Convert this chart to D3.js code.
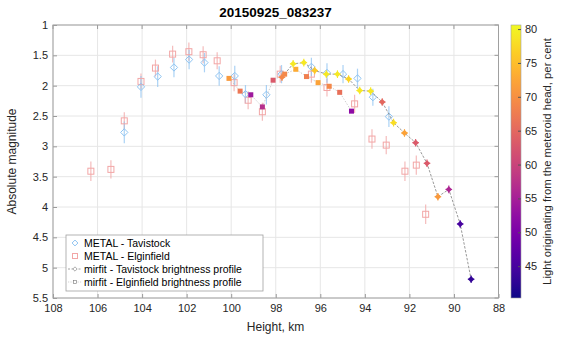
<!DOCTYPE html>
<html>
<head>
<meta charset="utf-8">
<script src="https://cdn.jsdelivr.net/npm/d3@7"></script>
<style>
  body { margin: 0; background: #fff; }
  svg text { font-family: "Liberation Sans", Arial, Helvetica, sans-serif; }
</style>
</head>
<body>
<svg id="chart" width="570" height="338"></svg>
<script>
// METAL - Tavistock (height km, abs. magnitude, error)
var tavHeight = [104.8, 104.05, 103.3, 102.57, 101.89, 101.2, 100.54, 99.84, 99.36, 98.42, 97.74, 96.4, 95.7, 94.98, 94.33, 93.64, 92.92];
var tavMag    = [2.77, 2.02, 1.85, 1.70, 1.57, 1.62, 1.84, 1.84, 2.14, 2.15, 1.81, 1.69, 1.79, 1.81, 1.88, 2.19, 2.51];
var tavErr    = [0.18, 0.18, 0.17, 0.16, 0.16, 0.16, 0.16, 0.17, 0.15, 0.16, 0.15, 0.15, 0.16, 0.15, 0.16, 0.14, 0.17];

// METAL - Elginfield
var elgHeight = [106.3, 105.4, 104.8, 104.05, 103.4, 102.63, 101.9, 101.26, 100.63, 99.87, 99.24, 98.6, 97.8, 96.4, 95.7, 94.46, 93.68, 93.04, 92.2, 91.69, 91.27];
var elgMag    = [3.41, 3.38, 2.58, 1.93, 1.71, 1.48, 1.44, 1.49, 1.59, 1.95, 2.24, 2.43, 1.81, 1.81, 2.03, 2.30, 2.88, 2.98, 3.41, 3.31, 4.12];
var elgErr    = [0.16, 0.15, 0.14, 0.13, 0.14, 0.14, 0.15, 0.14, 0.14, 0.14, 0.15, 0.15, 0.14, 0.14, 0.15, 0.15, 0.16, 0.15, 0.16, 0.16, 0.16];

// mirfit - Tavistock brightness profile (height, magnitude, % light from head)
var mtHeight = [97.72, 97.22, 96.74, 96.25, 95.73, 95.23, 94.73, 94.23, 93.74, 93.22, 92.71, 92.22, 91.72, 91.21, 90.72, 90.23, 89.72, 89.23];
var mtMag    = [1.86, 1.64, 1.62, 1.75, 1.81, 1.81, 1.89, 2.08, 2.09, 2.27, 2.61, 2.78, 2.94, 3.28, 3.83, 3.71, 4.28, 5.19];
var mtPct    = [69, 79, 79, 76, 79, 79, 77, 79, 79, 65, 78, 72, 63, 63, 71, 56, 45, 43];

// mirfit - Elginfield brightness profile
var meHeight = [100.1, 99.6, 99.12, 98.6, 98.12, 97.6, 97.1, 96.62, 96.1, 95.6, 95.13, 94.6];
var meMag    = [1.88, 2.09, 2.15, 2.35, 1.91, 1.81, 1.73, 1.85, 1.95, 2.01, 2.11, 2.42];
var mePct    = [71, 67, 54, 57, 63, 69, 73, 68, 72, 69, 66, 52];

var xTicks = [108, 106, 104, 102, 100, 98, 96, 94, 92, 90, 88];
var yTicks = [1, 1.5, 2, 2.5, 3, 3.5, 4, 4.5, 5, 5.5];
var cTicks = [45, 50, 55, 60, 65, 70, 75, 80];

var svg = d3.select("#chart");
var pL = 53, pR = 498.5, pT = 25, pB = 298;

var x = d3.scaleLinear().domain([108, 88]).range([pL, pR]);
var y = d3.scaleLinear().domain([1, 5.5]).range([pT, pB]);
var color = d3.scaleSequential(d3.interpolatePlasma).domain([40.3, 80.6]);

var axisCol = "#262626";

// grid
svg.append("g").selectAll("line").data(xTicks).enter().append("line")
  .attr("x1", function(d) { return x(d); }).attr("x2", function(d) { return x(d); })
  .attr("y1", pT).attr("y2", pB)
  .attr("stroke", "#e6e6e6").attr("stroke-width", 1);
svg.append("g").selectAll("line").data(yTicks).enter().append("line")
  .attr("x1", pL).attr("x2", pR)
  .attr("y1", function(d) { return y(d); }).attr("y2", function(d) { return y(d); })
  .attr("stroke", "#e6e6e6").attr("stroke-width", 1);

// axes
var xAxis = d3.axisBottom(x).tickValues(xTicks).tickSize(-4).tickPadding(6);
var gx = svg.append("g").attr("transform", "translate(0," + pB + ")").call(xAxis);
var yAxis = d3.axisLeft(y).tickValues(yTicks).tickSize(-4).tickPadding(5)
  .tickFormat(function(d) { return d; });
var gy = svg.append("g").attr("transform", "translate(" + pL + ",0)").call(yAxis);
[gx, gy].forEach(function(g) {
  g.selectAll("text").attr("font-size", 11).attr("fill", axisCol);
  g.selectAll("line").attr("stroke", "#9a9a9a");
  g.select(".domain").remove();
});
// top/right ticks (box on)
svg.append("g").selectAll("line").data(xTicks).enter().append("line")
  .attr("x1", function(d) { return x(d); }).attr("x2", function(d) { return x(d); })
  .attr("y1", pT).attr("y2", pT + 4).attr("stroke", "#9a9a9a");
svg.append("g").selectAll("line").data(yTicks).enter().append("line")
  .attr("x1", pR - 4).attr("x2", pR)
  .attr("y1", function(d) { return y(d); }).attr("y2", function(d) { return y(d); })
  .attr("stroke", "#9a9a9a");

svg.append("rect").attr("x", pL).attr("y", pT)
  .attr("width", pR - pL).attr("height", pB - pT)
  .attr("fill", "none").attr("stroke", "#a0a0a0").attr("stroke-width", 1);

// data tables
var tav = tavHeight.map(function(h, i) { return {h: h, m: tavMag[i], e: tavErr[i]}; });
var elg = elgHeight.map(function(h, i) { return {h: h, m: elgMag[i], e: elgErr[i]}; });
var mt = mtHeight.map(function(h, i) { return {h: h, m: mtMag[i], p: mtPct[i]}; });
var me = meHeight.map(function(h, i) { return {h: h, m: meMag[i], p: mePct[i]}; });

var blue = "#8fc4f2", red = "#f2a6a6";

// error bars
function errBars(data, col) {
  svg.append("g").selectAll("line").data(data).enter().append("line")
    .attr("x1", function(d) { return x(d.h); }).attr("x2", function(d) { return x(d.h); })
    .attr("y1", function(d) { return y(d.m - d.e); }).attr("y2", function(d) { return y(d.m + d.e); })
    .attr("stroke", col).attr("stroke-width", 1.2).attr("opacity", 0.75);
}
errBars(elg, red);
errBars(tav, blue);

// METAL markers
svg.append("g").selectAll("rect").data(elg).enter().append("rect")
  .attr("x", function(d) { return x(d.h) - 3; }).attr("y", function(d) { return y(d.m) - 3; })
  .attr("width", 6).attr("height", 6)
  .attr("fill", "none").attr("stroke", red).attr("stroke-width", 1);
var diamond = d3.symbol().type(d3.symbolDiamond2).size(34);
svg.append("g").selectAll("path").data(tav).enter().append("path")
  .attr("d", diamond)
  .attr("transform", function(d) { return "translate(" + x(d.h) + "," + y(d.m) + ")"; })
  .attr("fill", "none").attr("stroke", blue).attr("stroke-width", 1);

// mirfit lines
var line = d3.line().x(function(d) { return x(d.h); }).y(function(d) { return y(d.m); });
svg.append("path").datum(me).attr("d", line)
  .attr("fill", "none").attr("stroke", "#c8c8c8").attr("stroke-width", 0.9)
  .attr("stroke-dasharray", "1.5,1.5");
svg.append("path").datum(mt).attr("d", line)
  .attr("fill", "none").attr("stroke", "#8c8c8c").attr("stroke-width", 0.9)
  .attr("stroke-dasharray", "2.5,1.5");

// mirfit markers
svg.append("g").selectAll("rect").data(me).enter().append("rect")
  .attr("x", function(d) { return x(d.h) - 2.5; }).attr("y", function(d) { return y(d.m) - 2.5; })
  .attr("width", 5).attr("height", 5)
  .attr("fill", function(d) { return color(d.p); });
var fdiam = d3.symbol().type(d3.symbolDiamond2).size(26);
var mtg = svg.append("g").selectAll("g").data(mt).enter().append("g")
  .attr("transform", function(d) { return "translate(" + x(d.h) + "," + y(d.m) + ")"; });
mtg.append("path").attr("d", fdiam).attr("fill", function(d) { return color(d.p); });
mtg.append("line").attr("x1", 0).attr("x2", 0).attr("y1", -3.8).attr("y2", 3.8)
  .attr("stroke", function(d) { return color(d.p); }).attr("stroke-width", 1.1);
mtg.append("line").attr("x1", -3.3).attr("x2", 3.3).attr("y1", 0).attr("y2", 0)
  .attr("stroke", function(d) { return color(d.p); }).attr("stroke-width", 1.1);

// title and labels
svg.append("text").attr("x", 275.5).attr("y", 17).attr("text-anchor", "middle")
  .attr("font-size", 13.5).attr("font-weight", "bold").attr("fill", "#000")
  .text("20150925_083237");
svg.append("text").attr("x", 275.5).attr("y", 331).attr("text-anchor", "middle")
  .attr("font-size", 12).attr("fill", axisCol).text("Height, km");
svg.append("text").attr("transform", "translate(16," + ((pT + pB) / 2) + ") rotate(-90)")
  .attr("text-anchor", "middle").attr("font-size", 12).attr("fill", axisCol)
  .text("Absolute magnitude");

// colorbar
var cbX = 511, cbW = 10;
var cy = d3.scaleLinear().domain(color.domain()).range([pB, pT]);
var grad = svg.append("defs").append("linearGradient").attr("id", "cbgrad")
  .attr("x1", 0).attr("y1", 1).attr("x2", 0).attr("y2", 0);
d3.range(0, 1.0001, 0.05).forEach(function(t) {
  grad.append("stop").attr("offset", t)
    .attr("stop-color", d3.interpolatePlasma(t));
});
svg.append("rect").attr("x", cbX).attr("y", pT).attr("width", cbW).attr("height", pB - pT)
  .attr("fill", "url(#cbgrad)").attr("stroke", "#a0a0a0").attr("stroke-width", 0.6);
var cAxis = d3.axisRight(cy).tickValues(cTicks).tickSize(-3).tickPadding(4);
var gc = svg.append("g").attr("transform", "translate(" + (cbX + cbW) + ",0)").call(cAxis);
gc.select(".domain").remove();
gc.selectAll("line").attr("stroke", "#555");
gc.selectAll("text").attr("font-size", 11).attr("fill", axisCol);
svg.append("text").attr("transform", "translate(551," + ((pT + pB) / 2) + ") rotate(-90)")
  .attr("text-anchor", "middle").attr("font-size", 11.3).attr("fill", axisCol)
  .text("Light originating from the meteroid head, per cent");

// legend
var lg = svg.append("g");
lg.append("rect").attr("x", 66).attr("y", 235).attr("width", 197).attr("height", 56)
  .attr("fill", "#fff").attr("stroke", "#a0a0a0").attr("stroke-width", 0.8);
var legRows = [
  {label: "METAL - Tavistock", kind: "tav"},
  {label: "METAL - Elginfield", kind: "elg"},
  {label: "mirfit - Tavistock brightness profile", kind: "mt"},
  {label: "mirfit - Elginfield brightness profile", kind: "me"}
];
var row = lg.selectAll("g").data(legRows).enter().append("g")
  .attr("transform", function(d, i) { return "translate(0," + (243 + i * 13) + ")"; });
row.append("text").attr("x", 84).attr("y", 4).attr("font-size", 10.5).attr("fill", "#000")
  .text(function(d) { return d.label; });
row.each(function(d) {
  var g = d3.select(this);
  if (d.kind == "tav") {
    g.append("path").attr("d", d3.symbol().type(d3.symbolDiamond2).size(22))
      .attr("transform", "translate(75,0)").attr("fill", "none").attr("stroke", blue);
  } else if (d.kind == "elg") {
    g.append("rect").attr("x", 72.5).attr("y", -2.5).attr("width", 5).attr("height", 5)
      .attr("fill", "none").attr("stroke", red);
  } else if (d.kind == "mt") {
    g.append("line").attr("x1", 68).attr("x2", 82).attr("y1", 0).attr("y2", 0)
      .attr("stroke", "#8c8c8c").attr("stroke-width", 0.8).attr("stroke-dasharray", "2,1.5");
    g.append("path").attr("d", d3.symbol().type(d3.symbolDiamond2).size(12))
      .attr("transform", "translate(75,0)").attr("fill", "#fff").attr("stroke", "#777").attr("stroke-width", 0.6);
  } else {
    g.append("line").attr("x1", 68).attr("x2", 82).attr("y1", 0).attr("y2", 0)
      .attr("stroke", "#c8c8c8").attr("stroke-width", 0.8).attr("stroke-dasharray", "1.2,1.2");
    g.append("rect").attr("x", 73.5).attr("y", -1.5).attr("width", 3).attr("height", 3)
      .attr("fill", "#fff").attr("stroke", "#777").attr("stroke-width", 0.6);
  }
});
</script>
</body>
</html>
